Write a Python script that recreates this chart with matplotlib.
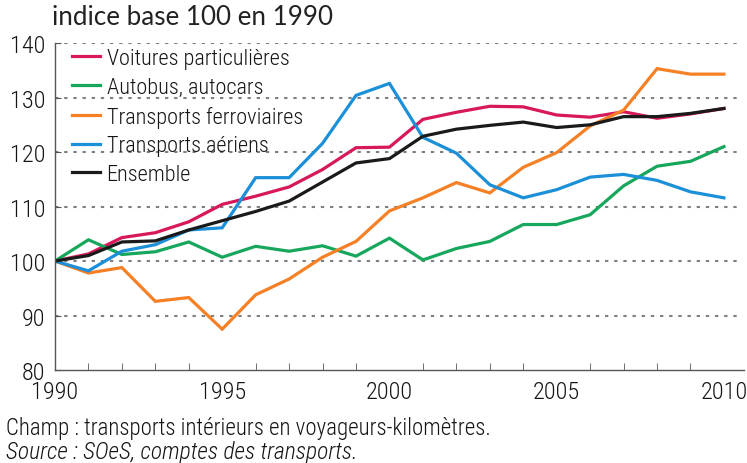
import numpy as np
import matplotlib
matplotlib.use("Agg")
import matplotlib.pyplot as plt
from matplotlib.ticker import MultipleLocator

# Data (index, base 100 in 1990)
years = list(range(1990, 2011))
voitures = [100, 101.3, 104.3, 105.2, 107.2, 110.4, 111.9, 113.6, 116.8, 120.8, 120.9,
            126.0, 127.3, 128.4, 128.3, 126.8, 126.4, 127.4, 126.2, 127.0, 128.0]
autobus = [100, 103.9, 101.2, 101.7, 103.5, 100.7, 102.7, 101.8, 102.8, 100.9, 104.2,
           100.2, 102.3, 103.6, 106.7, 106.7, 108.5, 113.8, 117.4, 118.3, 121.0]
ferroviaires = [100, 97.8, 98.8, 92.6, 93.3, 87.5, 93.8, 96.7, 100.7, 103.6, 109.2,
                111.6, 114.4, 112.5, 117.2, 119.9, 124.8, 127.7, 135.3, 134.3, 134.3]
aeriens = [100, 98.2, 101.8, 103.0, 105.7, 106.1, 115.3, 115.3, 121.6, 130.4, 132.6,
           122.7, 119.8, 114.0, 111.6, 113.1, 115.4, 115.9, 114.8, 112.7, 111.6]
ensemble = [100, 101.0, 103.5, 103.7, 105.7, 107.4, 109.1, 111.0, 114.5, 118.0, 118.8,
            122.9, 124.2, 124.9, 125.5, 124.5, 125.0, 126.5, 126.5, 127.1, 128.0]

labels = ["Voitures particulières", "Autobus, autocars", "Transports ferroviaires",
          "Transports aériens", "Ensemble"]
series = [voitures, autobus, ferroviaires, aeriens, ensemble]
colors = ["#d7185a", "#16a75c", "#f58025", "#1b8fd8", "#1a1a1a"]

# condensed grotesque, close to Helvetica Condensed
narrow = ["Roboto Condensed", "Archivo Narrow", "DejaVu Sans"]
plt.rcParams["font.family"] = narrow
plt.rcParams["font.weight"] = "light"
txt_col = "#151515"

fig = plt.figure(figsize=(7.47, 4.64), dpi=100)
ax = fig.add_axes([0.0736, 0.2004, 0.9224, 0.7046])

for vals, lab, col in zip(series, labels, colors):
    ax.plot(years, vals, color=col, lw=2.3, label=lab, solid_joinstyle="miter")

ax.set_xlim(1990, 2010.6)
ax.set_ylim(80, 140)
ax.set_yticks(np.arange(80, 141, 10))
ax.xaxis.set_major_locator(MultipleLocator(5))
ax.xaxis.set_minor_locator(MultipleLocator(1))

# dotted horizontal guides
for y in range(90, 141, 10):
    ax.axhline(y, xmax=0.991, color="#808080", lw=1.5, ls=(0, (1.6, 2.8)), zorder=0)

for s in ["top", "right"]:
    ax.spines[s].set_visible(False)
for s in ["left", "bottom"]:
    ax.spines[s].set_color("#555555")
    ax.spines[s].set_linewidth(1.0)

ax.tick_params(axis="both", which="both", direction="in", color="#555555",
               labelsize=17.5, labelcolor=txt_col)
ax.tick_params(axis="x", which="major", length=0, pad=7)
ax.tick_params(axis="x", which="minor", length=5)
ax.tick_params(axis="y", length=4, pad=7)

leg = ax.legend(loc="upper left", bbox_to_anchor=(0.012, 1.012), frameon=False,
                fontsize=16, handlelength=1.25, handletextpad=0.3, labelspacing=0.35,
                borderaxespad=0)
for t in leg.get_texts():
    t.set_color(txt_col)

fig.text(0.07, 0.935, "indice base 100 en 1990", fontsize=18.7, family=["Lato", "DejaVu Sans"],
         weight="normal", color="#222222", va="bottom")
fig.text(0.008, 0.077, "Champ : transports intérieurs en voyageurs-kilomètres.",
         fontsize=16.5, color=txt_col, va="center")
fig.text(0.008, 0.025, "Source : SOeS, comptes des transports.", fontsize=17,
         style="italic", color=txt_col, va="center")

fig.savefig("out.png", dpi=100)
